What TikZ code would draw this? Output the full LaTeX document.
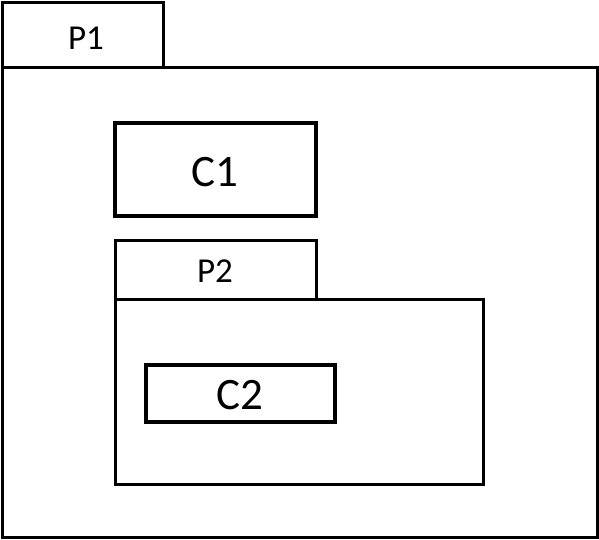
\documentclass[tikz,border=0pt]{standalone}
\usepackage{fontspec}
\setmainfont{Carlito}
\begin{document}
\begin{tikzpicture}[x=1pt,y=-1pt,
  pkglabel/.style={font=\fontsize{35}{40}\selectfont},
  clslabel/.style={font=\fontsize{45}{50}\selectfont}]
\useasboundingbox (0,0) rectangle (599,539);
% P1
\draw[line width=3pt] (2,67) rectangle (597,537);
\draw[line width=3pt] (2,2) rectangle (163,67);
\node[pkglabel] (p1) at (86,38) {P1};
% C1
\draw[line width=4.5pt] (115,123) rectangle (316,216);
\node[clslabel] (c1) at (215,172) {C1};
% P2
\draw[line width=3pt] (115,299) rectangle (483,484);
\draw[line width=3pt] (115,240) rectangle (316,299);
\node[pkglabel] (p2) at (215,271) {P2};
% C2
\draw[line width=4.5pt] (146,365) rectangle (335,422);
\node[clslabel] (c2) at (240,395) {C2};
\end{tikzpicture}
\end{document}
